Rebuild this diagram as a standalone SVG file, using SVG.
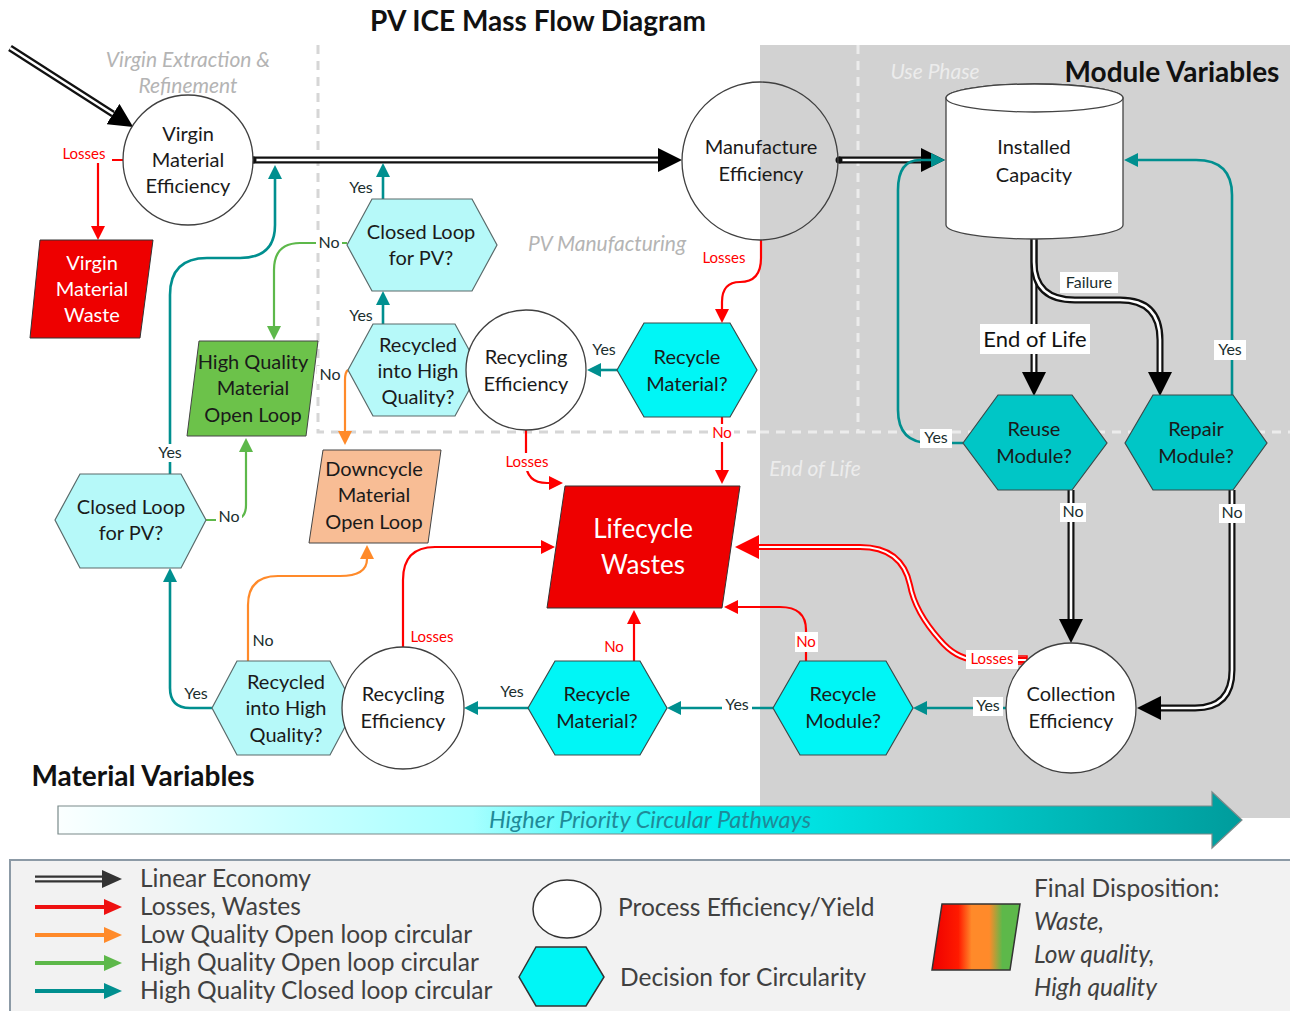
<svg xmlns="http://www.w3.org/2000/svg" width="1290" height="1011" viewBox="0 0 1290 1011">
<defs>
<style>
text{font-family:Lato,"Open Sans","Liberation Sans",sans-serif;}
.nt{font-size:20px;fill:#1a1a1a;text-anchor:middle;}
.wt{font-size:20px;fill:#ffffff;text-anchor:middle;}
.sec{font-size:21px;font-style:italic;fill:#b4b4b4;text-anchor:middle;}
.secl{font-size:21px;font-style:italic;fill:#ececec;text-anchor:middle;}
.lbl{font-size:16px;fill:#1a2e2e;text-anchor:middle;}
.lblr{font-size:15px;fill:#ff0000;text-anchor:middle;}
.leg{font-size:24.5px;fill:#404040;}
.circ{fill:#ffffff;stroke:#404040;stroke-width:1.3;}
.hexc{fill:#00f6f6;stroke:#3a4a4a;stroke-width:1.2;}
.hexl{fill:#b6f9f9;stroke:#5a6a6a;stroke-width:1.2;}
.hexd{fill:#00c6c6;stroke:#3a4a4a;stroke-width:1.2;}
.dblo{fill:none;stroke:#111111;stroke-width:7;}
.dbli{fill:none;stroke:#ffffff;stroke-width:2.6;}
.rdo{fill:none;stroke:#ff0000;stroke-width:6;}
.rdi{fill:none;stroke:#ffffff;stroke-width:2;}
.r{fill:none;stroke:#ff0000;stroke-width:2.2;marker-end:url(#aR);}
.t{fill:none;stroke:#008f8f;stroke-width:2.6;marker-end:url(#aT);}
.o{fill:none;stroke:#ff8a2a;stroke-width:2.2;marker-end:url(#aO);}
.g{fill:none;stroke:#5db84a;stroke-width:2.2;marker-end:url(#aG);}
.bg{fill:#ffffff;}
.hd{font-size:28px;font-weight:bold;fill:#111;text-anchor:middle;}
</style>
<marker id="aK" viewBox="0 -12 24 24" refX="0" refY="0" markerWidth="24" markerHeight="24" markerUnits="userSpaceOnUse" orient="auto"><path d="M0,-12 L24,0 L0,12 z" fill="#000"/></marker>
<marker id="aR" viewBox="0 -7 14 14" refX="0" refY="0" markerWidth="14" markerHeight="14" markerUnits="userSpaceOnUse" orient="auto"><path d="M0,-7 L14,0 L0,7 z" fill="#ff0000"/></marker>
<marker id="aRB" viewBox="0 -12 24 24" refX="0" refY="0" markerWidth="24" markerHeight="24" markerUnits="userSpaceOnUse" orient="auto"><path d="M0,-12 L24,0 L0,12 z" fill="#ff0000"/></marker>
<marker id="aT" viewBox="0 -7 14 14" refX="0" refY="0" markerWidth="14" markerHeight="14" markerUnits="userSpaceOnUse" orient="auto"><path d="M0,-7 L14,0 L0,7 z" fill="#008f8f"/></marker>
<marker id="aO" viewBox="0 -7 14 14" refX="0" refY="0" markerWidth="14" markerHeight="14" markerUnits="userSpaceOnUse" orient="auto"><path d="M0,-7 L14,0 L0,7 z" fill="#ff8a2a"/></marker>
<marker id="aG" viewBox="0 -7 14 14" refX="0" refY="0" markerWidth="14" markerHeight="14" markerUnits="userSpaceOnUse" orient="auto"><path d="M0,-7 L14,0 L0,7 z" fill="#5db84a"/></marker>
<marker id="lK" viewBox="0 -9 20 18" refX="0" refY="0" markerWidth="20" markerHeight="18" markerUnits="userSpaceOnUse" orient="auto"><path d="M0,-9 L20,0 L0,9 z" fill="#333"/></marker>
<marker id="lR" viewBox="0 -8 18 16" refX="0" refY="0" markerWidth="18" markerHeight="16" markerUnits="userSpaceOnUse" orient="auto"><path d="M0,-8 L18,0 L0,8 z" fill="#ee1111"/></marker>
<marker id="lO" viewBox="0 -8 18 16" refX="0" refY="0" markerWidth="18" markerHeight="16" markerUnits="userSpaceOnUse" orient="auto"><path d="M0,-8 L18,0 L0,8 z" fill="#ff8a2a"/></marker>
<marker id="lG" viewBox="0 -8 18 16" refX="0" refY="0" markerWidth="18" markerHeight="16" markerUnits="userSpaceOnUse" orient="auto"><path d="M0,-8 L18,0 L0,8 z" fill="#5db84a"/></marker>
<marker id="lT" viewBox="0 -8 18 16" refX="0" refY="0" markerWidth="18" markerHeight="16" markerUnits="userSpaceOnUse" orient="auto"><path d="M0,-8 L18,0 L0,8 z" fill="#008f8f"/></marker>
<linearGradient id="gPri" x1="0" y1="0" x2="1" y2="0">
<stop offset="0" stop-color="#fbffff"/><stop offset="0.35" stop-color="#a6ffff"/><stop offset="0.55" stop-color="#00f2f2"/><stop offset="1" stop-color="#009c9c"/>
</linearGradient>
<linearGradient id="gDisp" x1="0" y1="0" x2="1" y2="0">
<stop offset="0" stop-color="#ee0000"/><stop offset="0.3" stop-color="#ff1a00"/><stop offset="0.45" stop-color="#ff8a2a"/><stop offset="0.65" stop-color="#ff8a2a"/><stop offset="0.8" stop-color="#5db84a"/><stop offset="1" stop-color="#5db84a"/>
</linearGradient>
</defs>

<rect width="1290" height="1011" fill="#ffffff"/>
<g id="regions">
<rect x="760" y="45" width="530" height="773" fill="#d2d2d2"/>
<path d="M318,45 V432 H760" fill="none" stroke="#d6d6d6" stroke-width="3" stroke-dasharray="9,7"/>
<path d="M760,432 H1290 M858,45 V432" fill="none" stroke="#ececec" stroke-width="3" stroke-dasharray="9,7"/>
<text class="hd" x="538" y="31">PV ICE Mass Flow Diagram</text>
<text class="sec" x="188" y="67">Virgin Extraction &amp;</text>
<text class="sec" x="188" y="93">Refinement</text>
<text class="sec" x="607" y="251">PV Manufacturing</text>
<text class="secl" x="935" y="79">Use Phase</text>
<text class="secl" x="815" y="476">End of Life</text>
<text class="hd" x="1172" y="82">Module Variables</text>
<text class="hd" x="143" y="786">Material Variables</text>
</g>

<g id="priority-arrow">
<polygon points="58,806 1212,806 1212,792 1242,820 1212,848 1212,834 58,834" fill="url(#gPri)" stroke="#7a8a8a" stroke-width="1.2"/>
<text x="650" y="828" font-size="23.5" font-style="italic" fill="#1f8a98" text-anchor="middle">Higher Priority Circular Pathways</text>
</g>

<g id="connectors">
<path class="dblo" d="M10,48 L113,114" marker-end="url(#aK)"/><path class="dbli" d="M10,48 L113,114"/>
<path class="dblo" d="M253,160 H658" marker-end="url(#aK)"/><path class="dbli" d="M253,160 H658"/>
<circle cx="253" cy="160" r="3.5" fill="#111"/>
<path class="dblo" d="M839,160 H921" marker-end="url(#aK)"/><path class="dbli" d="M839,160 H921"/>
<circle cx="839" cy="160" r="3.5" fill="#111"/>
<path class="dblo" d="M1034,238 V372" marker-end="url(#aK)"/><path class="dbli" d="M1034,238 V372"/>
<path class="dblo" d="M1034,238 V262 Q1034,300 1075,300 H1120 Q1160,300 1160,340 V372" marker-end="url(#aK)"/><path class="dbli" d="M1034,238 V262 Q1034,300 1075,300 H1120 Q1160,300 1160,340 V372"/>
<path class="dblo" d="M1071,490 V619" marker-end="url(#aK)"/><path class="dbli" d="M1071,490 V619"/>
<path class="dblo" d="M1232,490 V670 Q1232,708 1195,708 H1161" marker-end="url(#aK)"/><path class="dbli" d="M1232,490 V670 Q1232,708 1195,708 H1161"/>
<path class="rdo" d="M1027,660 H975 Q955,658 940,640 Q915,612 910,585 Q902,547 860,547 H759" marker-end="url(#aRB)"/><path class="rdi" d="M1027,660 H975 Q955,658 940,640 Q915,612 910,585 Q902,547 860,547 H759"/>
<rect x="1016" y="656" width="11" height="8" fill="none" stroke="#ff0000" stroke-width="1.5"/>
<path class="t" d="M1232,395 V195 Q1232,160 1196,160 H1138"/>
<path class="t" d="M963,443 H930 Q898,443 898,410 V190 Q898,160 920,160 H931"/>
<path class="t" d="M617,370 H601"/>
<path class="t" d="M383,324 V305"/>
<path class="t" d="M383,199 V177"/>
<path class="t" d="M170,474 V295 Q170,258 207,258 H240 Q275,258 275,225 V179"/>
<path class="t" d="M212,708 H190 Q170,708 170,688 V582"/>
<path class="t" d="M528,708 H478"/>
<path class="t" d="M773,708 H681"/>
<path class="t" d="M1006,708 H927"/>
<path class="r" d="M761,240 V258 Q761,282 740,282 Q722,282 722,302 V309"/>
<path class="r" d="M722,417 V470"/>
<path class="r" d="M526,430 V462 Q526,483 547,483 H549"/>
<path class="r" d="M403,647 V580 Q403,547 435,547 H541"/>
<path class="r" d="M634,661 V624"/>
<path class="r" d="M806,661 V630 Q806,607 780,607 H738"/>
<path d="M123,160 H98 V226" fill="none" stroke="#ff0000" stroke-width="2.2" marker-end="url(#aR)"/>
<path class="g" d="M347,243 H300 Q274,243 274,270 V326"/>
<path class="g" d="M206,520 H232 Q246,520 246,505 V452"/>
<path class="o" d="M348,370 Q345,372 345,380 V431"/>
<path class="o" d="M248,662 V605 Q248,576 278,576 H340 Q367,576 367,559"/>
</g>

<g id="connector-labels">
<rect class="bg" x="56" y="145" width="56" height="18"/>
<text class="lblr" x="84" y="159">Losses</text>
<rect class="bg" x="698" y="249" width="52" height="18"/>
<text class="lblr" x="724" y="263">Losses</text>
<rect class="bg" x="710" y="424" width="24" height="18"/>
<text class="lblr" x="722" y="438">No</text>
<text class="lbl" x="604" y="355">Yes</text>
<rect class="bg" x="500" y="453" width="54" height="18"/>
<text class="lblr" x="527" y="467">Losses</text>
<text class="lbl" x="361" y="321">Yes</text>
<text class="lbl" x="361" y="193">Yes</text>
<rect class="bg" x="316" y="234" width="26" height="18"/>
<text class="lbl" x="329" y="248">No</text>
<rect class="bg" x="317" y="366" width="26" height="18"/>
<text class="lbl" x="330" y="380">No</text>
<rect class="bg" x="154" y="444" width="32" height="18"/>
<text class="lbl" x="170" y="458">Yes</text>
<rect class="bg" x="216" y="508" width="26" height="18"/>
<text class="lbl" x="229" y="522">No</text>
<text class="lbl" x="196" y="699">Yes</text>
<text class="lbl" x="263" y="646">No</text>
<text class="lblr" x="432" y="642">Losses</text>
<text class="lblr" x="614" y="652">No</text>
<text class="lbl" x="512" y="697">Yes</text>
<rect class="bg" x="722" y="697" width="30" height="17"/>
<text class="lbl" x="737" y="710">Yes</text>
<rect class="bg" x="795" y="632" width="23" height="20"/>
<text class="lblr" x="806" y="647">No</text>
<rect class="bg" x="973" y="697" width="30" height="19"/>
<text class="lbl" x="988" y="711">Yes</text>
<rect class="bg" x="966" y="650" width="52" height="19"/>
<text class="lblr" x="992" y="664">Losses</text>
<rect class="bg" x="920" y="429" width="32" height="19"/>
<text class="lbl" x="936" y="443">Yes</text>
<rect class="bg" x="1214" y="340" width="32" height="20"/>
<text class="lbl" x="1230" y="355">Yes</text>
<rect class="bg" x="1060" y="503" width="26" height="19"/>
<text class="lbl" x="1073" y="517">No</text>
<rect class="bg" x="1219" y="504" width="26" height="19"/>
<text class="lbl" x="1232" y="518">No</text>
<rect class="bg" x="1060" y="272" width="58" height="21"/>
<text class="lbl" x="1089" y="288">Failure</text>
<rect class="bg" x="980" y="324" width="110" height="30"/>
<text x="1035" y="347" font-size="22" fill="#111" text-anchor="middle">End of Life</text>
</g>

<g id="virgin-efficiency"><circle class="circ" cx="188" cy="160" r="65"/>
<text class="nt" x="188" y="141">Virgin</text><text class="nt" x="188" y="167">Material</text><text class="nt" x="188" y="193">Efficiency</text></g>

<g id="virgin-waste"><polygon points="40,240 153,240 140,338 30,338" fill="#ee0000" stroke="#333" stroke-width="1"/>
<text class="wt" x="92" y="270">Virgin</text><text class="wt" x="92" y="296">Material</text><text class="wt" x="92" y="322">Waste</text></g>

<g id="manufacture-efficiency"><ellipse cx="760" cy="161" rx="78" ry="79" fill="none" stroke="#404040" stroke-width="1.3"/>
<text class="nt" x="761" y="154">Manufacture</text><text class="nt" x="761" y="181">Efficiency</text></g>

<g id="installed-capacity">
<path d="M946,98 V225 A88.5,14 0 0 0 1123,225 V98 A88.5,14 0 0 0 946,98 Z" fill="#ffffff" stroke="#444" stroke-width="1.3"/>
<ellipse cx="1034.5" cy="98" rx="88.5" ry="14" fill="#ffffff" stroke="#444" stroke-width="1.3"/>
<text class="nt" x="1034" y="154">Installed</text><text class="nt" x="1034" y="182">Capacity</text></g>

<g id="closed-loop-top"><polygon class="hexl" points="347,245 372,199 472,199 497,245 472,291 372,291"/>
<text class="nt" x="421" y="239">Closed Loop</text><text class="nt" x="421" y="265">for PV?</text></g>

<g id="recycled-hq-top"><polygon class="hexl" points="348,370 373,324 455,324 480,370 455,416 373,416"/>
<text class="nt" x="418" y="352">Recycled</text><text class="nt" x="418" y="378">into High</text><text class="nt" x="418" y="404">Quality?</text></g>

<g id="recycling-efficiency-top"><circle class="circ" cx="526" cy="370" r="60"/>
<text class="nt" x="526" y="364">Recycling</text><text class="nt" x="526" y="391">Efficiency</text></g>

<g id="recycle-material-top"><polygon class="hexc" points="617,370 644,323 730,323 757,370 730,417 644,417"/>
<text class="nt" x="687" y="364">Recycle</text><text class="nt" x="687" y="391">Material?</text></g>

<g id="hq-open-loop"><polygon points="199,341 318,341 306,436 187,436" fill="#6cc24a" stroke="#444" stroke-width="1"/>
<text class="nt" x="253" y="369">High Quality</text><text class="nt" x="253" y="395">Material</text><text class="nt" x="253" y="422">Open Loop</text></g>

<g id="downcycle"><polygon points="323,450 441,450 428,543 309,543" fill="#f8bd95" stroke="#444" stroke-width="1"/>
<text class="nt" x="374" y="476">Downcycle</text><text class="nt" x="374" y="502">Material</text><text class="nt" x="374" y="529">Open Loop</text></g>

<g id="closed-loop-bottom"><polygon class="hexl" points="55,520 80,474 181,474 206,520 181,568 80,568"/>
<text class="nt" x="131" y="514">Closed Loop</text><text class="nt" x="131" y="540">for PV?</text></g>

<g id="lifecycle-wastes"><polygon points="565,486 740,486 722,608 547,608" fill="#ee0000" stroke="#333" stroke-width="1"/>
<text x="643" y="538" font-size="26" fill="#fff" text-anchor="middle">Lifecycle</text><text x="643" y="574" font-size="26" fill="#fff" text-anchor="middle">Wastes</text></g>

<g id="recycled-hq-bottom"><polygon class="hexl" points="212,708 237,661 330,661 355,708 330,755 237,755"/>
<text class="nt" x="286" y="689">Recycled</text><text class="nt" x="286" y="715">into High</text><text class="nt" x="286" y="742">Quality?</text></g>

<g id="recycling-efficiency-bottom"><circle class="circ" cx="403" cy="708" r="61"/>
<text class="nt" x="403" y="701">Recycling</text><text class="nt" x="403" y="728">Efficiency</text></g>

<g id="recycle-material-bottom"><polygon class="hexc" points="528,708 555,661 640,661 667,708 640,755 555,755"/>
<text class="nt" x="597" y="701">Recycle</text><text class="nt" x="597" y="728">Material?</text></g>

<g id="recycle-module"><polygon class="hexc" points="773,708 800,661 886,661 913,708 886,755 800,755"/>
<text class="nt" x="843" y="701">Recycle</text><text class="nt" x="843" y="728">Module?</text></g>

<g id="collection-efficiency"><ellipse class="circ" cx="1071" cy="708" rx="65" ry="65"/>
<text class="nt" x="1071" y="701">Collection</text><text class="nt" x="1071" y="728">Efficiency</text></g>

<g id="reuse-module"><polygon class="hexd" points="963,443 998,395 1072,395 1107,443 1072,490 998,490"/>
<text class="nt" x="1034" y="436">Reuse</text><text class="nt" x="1034" y="463">Module?</text></g>

<g id="repair-module"><polygon class="hexd" points="1125,443 1153,395 1233,395 1267,443 1233,490 1153,490"/>
<text class="nt" x="1196" y="436">Repair</text><text class="nt" x="1196" y="463">Module?</text></g>

<g id="legend">
<rect x="10" y="860" width="1290" height="160" fill="#f2f2f2" stroke="#8c9aa6" stroke-width="2"/>
<path d="M35,879 H102" stroke="#333" stroke-width="7" fill="none" marker-end="url(#lK)"/><path d="M35,879 H102" stroke="#f2f2f2" stroke-width="2.4" fill="none"/>
<path d="M35,907 H104" stroke="#ee1111" stroke-width="4" fill="none" marker-end="url(#lR)"/>
<path d="M35,935 H104" stroke="#ff8a2a" stroke-width="4" fill="none" marker-end="url(#lO)"/>
<path d="M35,963 H104" stroke="#5db84a" stroke-width="4" fill="none" marker-end="url(#lG)"/>
<path d="M35,991 H104" stroke="#008f8f" stroke-width="4" fill="none" marker-end="url(#lT)"/>
<text class="leg" x="140" y="887">Linear Economy</text>
<text class="leg" x="140" y="915">Losses, Wastes</text>
<text class="leg" x="140" y="943">Low Quality Open loop circular</text>
<text class="leg" x="140" y="971">High Quality Open loop circular</text>
<text class="leg" x="140" y="999">High Quality Closed loop circular</text>
<ellipse cx="567" cy="909" rx="34" ry="29" fill="#fff" stroke="#333" stroke-width="1.5"/>
<polygon points="519,977 536,947 586,947 604,977 586,1006 536,1006" fill="#00f6f6" stroke="#333" stroke-width="1.5"/>
<text class="leg" x="618" y="916">Process Efficiency/Yield</text>
<text class="leg" x="620" y="986">Decision for Circularity</text>
<polygon points="942,904 1020,904 1010,970 932,970" fill="url(#gDisp)" stroke="#333" stroke-width="1.5"/>
<text class="leg" x="1034" y="897">Final Disposition:</text>
<text class="leg" x="1034" y="930" font-style="italic">Waste,</text>
<text class="leg" x="1034" y="963" font-style="italic">Low quality,</text>
<text class="leg" x="1034" y="996" font-style="italic">High quality</text>
</g>
</svg>
